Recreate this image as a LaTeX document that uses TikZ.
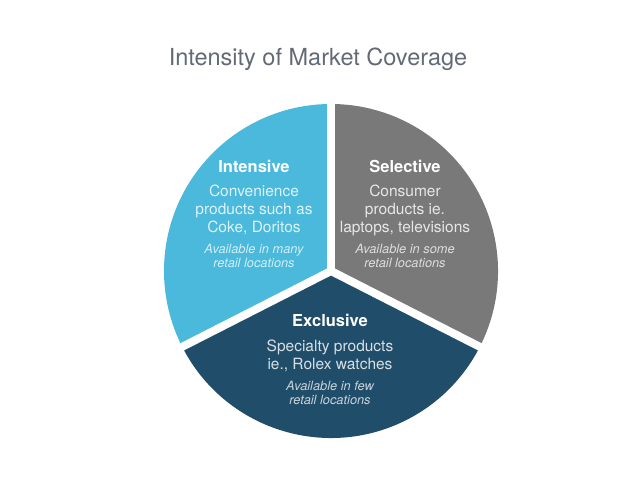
\documentclass[tikz,border=0pt]{standalone}
\usepackage{fontspec}
\setmainfont{TeX Gyre Heros}
\usetikzlibrary{positioning}
\definecolor{intblue}{RGB}{74,185,219}
\definecolor{selgray}{RGB}{122,121,121}
\definecolor{excblue}{RGB}{32,78,106}
\definecolor{titlegray}{RGB}{98,106,118}
\begin{document}
\begin{tikzpicture}[
    x=1pt, y=1pt, inner sep=0pt,
    title/.style={font=\fontsize{23.5}{28}\selectfont, text=titlegray, anchor=base},
    head/.style={font=\fontsize{16.5}{20}\selectfont\bfseries, text=white, anchor=base},
    body/.style={font=\fontsize{15.5}{17.7}\selectfont, text=white, text opacity=0.82, align=center},
    note/.style={font=\fontsize{12.8}{14.5}\selectfont\itshape, text=white, text opacity=0.75, align=center},
    gap/.style={draw=white, line width=8pt, line cap=round}]
  \useasboundingbox (0,0) rectangle (638,493);
  \node[title] (t) at (318,427) {Intensity of Market Coverage};
  % pie
  \coordinate (c) at (331,222);
  \fill[intblue] (c) -- ++(90:167) arc[start angle=90, end angle=207, radius=167] -- cycle;
  \fill[excblue] (c) -- ++(207:167) arc[start angle=207, end angle=333, radius=167] -- cycle;
  \fill[selgray] (c) -- ++(333:167) arc[start angle=333, end angle=450, radius=167] -- cycle;
  \draw[gap] (c) -- ++(90:172);
  \draw[gap] (c) -- ++(207:172);
  \draw[gap] (c) -- ++(333:172);
  % labels
  \node[head] (ih) at (254,320.7) {Intensive};
  \node[body, below=12.5pt of ih] (ib) {Convenience\\products such as\\Coke, Doritos};
  \node[note, below=9pt of ib] (in) {Available in many\\retail locations};
  \node[head] (sh) at (405,320.7) {Selective};
  \node[body, below=12.5pt of sh] (sb) {Consumer\\products ie.\\laptops, televisions};
  \node[note, below=8pt of sb] (sn) {Available in some\\retail locations};
  \node[head] (eh) at (330,166.3) {Exclusive};
  \node[body, below=12.5pt of eh] (eb) {Specialty products\\ie., Rolex watches};
  \node[note, below=9pt of eb] (en) {Available in few\\retail locations};
\end{tikzpicture}
\end{document}
